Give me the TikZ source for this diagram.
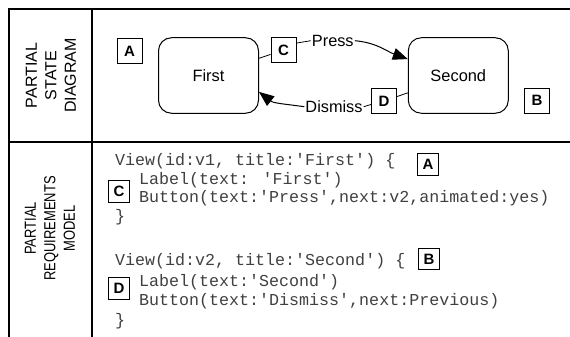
\documentclass[tikz,border=0pt]{standalone}
\usepackage{fontspec}
\usepackage{graphicx}
\setmainfont{Liberation Sans}
\newfontfamily\codefont{Liberation Mono}
\usetikzlibrary{arrows.meta}
\begin{document}
\begin{tikzpicture}[x=1pt,y=-1pt,
  frame/.style={line width=1.6pt},
  statebox/.style={draw, line width=1pt, rounded corners=13pt, minimum width=100pt, minimum height=75.5pt, inner sep=0pt, font=\fontsize{16.4}{19}\selectfont},
  tagbox/.style={draw, line width=1pt, minimum size=25pt, inner sep=0pt, font=\fontsize{15}{18}\selectfont\bfseries},
  codetag/.style={tagbox, minimum size=21.5pt},
  edgelab/.style={inner sep=1pt, font=\fontsize{16.3}{19}\selectfont},
  sidelab/.style={rotate=90, align=center, inner sep=0pt, font=\fontsize{16}{19.5}\selectfont},
  codeline/.style={anchor=base west, inner sep=0pt, text=black!75, font=\codefont\fontsize{16.67}{19}\selectfont},
  trans/.style={line width=1pt, -{Triangle[length=15pt,width=12pt]}},
  plain/.style={line width=0.8pt}
]
\useasboundingbox (0,0) rectangle (570,337);
% frame
\coordinate (tl) at (9,9);
\coordinate (tr) at (570,9);
\coordinate (bl) at (9,337);
\coordinate (dt) at (92,9);
\coordinate (db) at (92,337);
\coordinate (ml) at (9,142);
\coordinate (mr) at (570,142);
\draw[frame] (tr) -- (tl) -- (bl);
\draw[frame] (dt) -- (db);
\draw[frame] (ml) -- (mr);
% side labels
\node[sidelab] (lab1) at (51,75.5) {PARTIAL\\STATE\\DIAGRAM};
\node[sidelab] (lab2) at (51.5,228.5) {\scalebox{0.81}[1]{\begin{tabular}{@{}c@{}}PARTIAL\\REQUIREMENTS\\MODEL\end{tabular}}};
% states
\node[statebox] (first) at (208.5,75.5) {First};
\node[statebox] (second) at (458.3,75.5) {Second};
% tags
\node[tagbox] (ta) at (129.5,51) {A};
\node[tagbox] (tb) at (537,100.5) {B};
\node[tagbox] (tc) at (283.5,50) {C};
\node[tagbox] (td) at (384,101) {D};
% edge labels
\node[edgelab] (press) at (332.8,40.7) {Press};
\node[edgelab] (dismiss) at (334,106.7) {Dismiss};
% transitions
\draw[plain] (first) -- (tc);
\draw[plain] (tc.28) -- (press.west);
\draw[trans] (press.east) to[out=-5,in=160] (second.162);
\draw[plain] (second) -- (td);
\draw[plain] (td.195) -- (dismiss.east);
\draw[trans] (dismiss.west) to[out=172,in=-38] (first.-18);
% code block 1
\node[codeline] (c1) at (115,165.5) {View(id:v1, title:'First') \{};
\node[codeline] (c2) at (139,184.3) {Label(text: 'First')};
\node[codeline] (c3) at (139,202.5) {Button(text:'Press',next:v2,animated:yes)};
\node[codeline] (c4) at (115,221) {\}};
% code block 2
\node[codeline] (c5) at (115,265.7) {View(id:v2, title:'Second') \{};
\node[codeline] (c6) at (139,286) {Label(text:'Second')};
\node[codeline] (c7) at (139,305) {Button(text:'Dismiss',next:Previous)};
\node[codeline] (c8) at (115,325) {\}};
% code tags
\node[codetag] (ca) at (428,164.5) {A};
\node[codetag] (cb) at (429,259) {B};
\node[codetag] (cc) at (119,191.7) {C};
\node[codetag] (cd) at (119,288.7) {D};
\end{tikzpicture}
\end{document}
